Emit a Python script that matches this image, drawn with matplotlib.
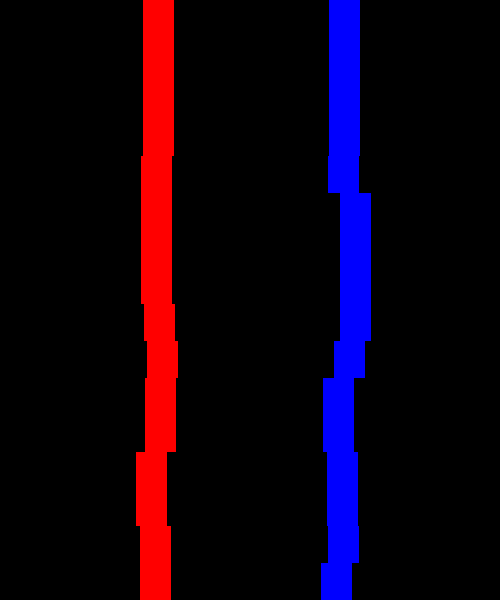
import matplotlib
matplotlib.use("Agg")
import matplotlib.pyplot as plt
import numpy as np

# Row index (from bottom) and horizontal position of each band's centre
rows = list(range(17))
red_pos = [155.5, 155.5, 151.5, 151.5, 160.5, 160.5, 162.2, 159.5,
           156.5, 156.5, 156.5, 156.5, 158.5, 158.5, 158.5, 158.5, 158.5]
blue_pos = [336.5, 343.8, 342.5, 342.5, 338.5, 338.5, 349.7, 355.5,
            355.5, 355.5, 355.5, 343.7, 344.5, 344.5, 344.5, 344.5, 344.5]

band_w = 31

fig = plt.figure(figsize=(5, 6), dpi=100, facecolor="black")
ax = fig.add_axes([0, 0, 1, 1])
ax.set_facecolor("black")

r = np.array(rows)
ax.barh(r, band_w, left=np.array(red_pos) - band_w / 2, height=1.0,
        align="edge", color="#ff0000", linewidth=0)
ax.barh(r, band_w, left=np.array(blue_pos) - band_w / 2, height=1.0,
        align="edge", color="#0000ff", linewidth=0)

ax.set_xlim(0, 500)
ax.set_ylim(0, 600 / 37)
ax.axis("off")

fig.savefig("out.png", dpi=100, facecolor="black")
